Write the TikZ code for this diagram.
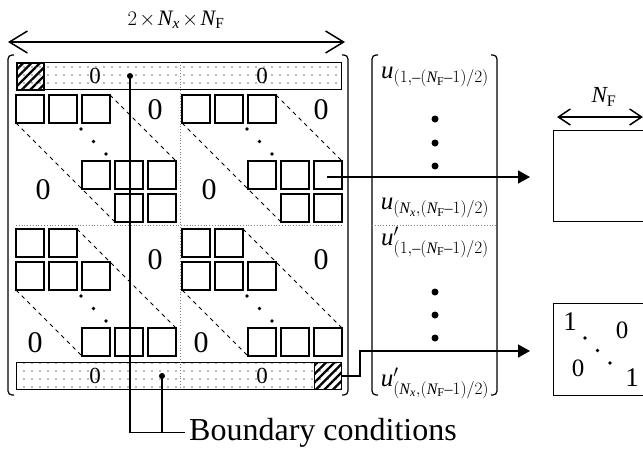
\documentclass[tikz,border=0pt]{standalone}
\usepackage{amsmath}
\usepackage{fontspec}
\setmainfont{Liberation Serif}
\usetikzlibrary{arrows.meta,patterns.meta}
\DeclareMathSizes{25}{25}{16}{12}

\newcommand{\vu}{\textit{u}}
\newcommand{\vN}{\textit{N}}
\newcommand{\mi}{\text{–}}
\newcommand{\tms}{\mkern-2mu\times\mkern-2mu}

\tikzset{
  cell/.style={line width=1.4pt},
  diag/.style={dash pattern=on 4pt off 4pt, line width=0.9pt},
  sep/.style={gray, dotted, line width=0.8pt},
  brak/.style={line width=1.2pt, rounded corners=4pt},
  strip/.style={draw, line width=1.4pt, pattern={Dots[distance=8pt, radius=0.8pt]}, pattern color=black!55,
    minimum width=325pt, minimum height=27pt, inner sep=0pt, anchor=north west},
  hatch/.style={draw, line width=1.4pt, pattern={Lines[angle=45, distance=6pt, line width=2.3pt]},
    minimum size=27pt, inner sep=0pt, anchor=north west},
  box/.style={draw, line width=1.3pt, minimum width=110pt, inner sep=0pt, anchor=north west},
  zero/.style={font=\fontsize{23}{24}\selectfont},
  bigzero/.style={font=\fontsize{30}{32}\selectfont},
  entry/.style={font=\fontsize{25}{28}\selectfont},
  wire/.style={line width=1.5pt},
}

\begin{document}
\begin{tikzpicture}[x=1pt, y=-1pt]
\useasboundingbox (0,0) rectangle (643,451);
\clip (0,0) rectangle (643,451);

% width of the matrix
\draw[wire, {Straight Barb[length=18pt,width=22pt]}-{Straight Barb[length=18pt,width=22pt]}] (8,42) -- (345,42);
\node[font=\fontsize{22}{24}\selectfont] (width) at (176,20) {$2\tms\vN_{\textit{x}}\tms\vN_{\mathrm{F}}$};

% brackets
\draw[brak] (14,55) -- (8,55) -- (8,395) -- (14,395);
\draw[brak] (342,55) -- (348,55) -- (348,395) -- (342,395);
\draw[brak] (378,55) -- (372,55) -- (372,395) -- (378,395);
\draw[brak] (491,55) -- (497,55) -- (497,395) -- (491,395);

% boundary strips
\node[strip] (stripA) at (16,62) {};
\node[strip] (stripB) at (16,362) {};
\node[hatch] (hatchA) at (16,62) {};
\node[hatch] (hatchB) at (314,362) {};
\foreach \zx in {95,262} {
  \node[zero] at (\zx,76) {0};
  \node[zero] at (\zx,376) {0};
}

\draw[sep] (180,62) -- (180,389);
\draw[sep] (16,225) -- (341,225);

% upper blocks
\foreach \bx in {16,182} {
  \begin{scope}[shift={(\bx,95)}]
    \foreach \cx/\cy in {0/0,33/0,66/0,66/66,99/66,132/66,99/99,132/99}
      \draw[cell] (\cx,\cy) rectangle ++(28,28);
    \draw[diag] (0,28) -- (99,127);
    \draw[diag] (94,0) -- (160,66);
    \foreach \d in {0,1,2}
      \fill (65+12.5*\d,34+12.5*\d) circle (1.8pt);
    \node[bigzero] at (139,15) {0};
    \node[bigzero] at (27,95) {0};
  \end{scope}
}

% lower blocks
\foreach \bx in {16,182} {
  \begin{scope}[shift={(\bx,229)}]
    \foreach \cx/\cy in {0/0,33/0,0/33,33/33,66/33,66/99,99/99,132/99}
      \draw[cell] (\cx,\cy) rectangle ++(28,28);
    \draw[diag] (0,61) -- (66,127);
    \draw[diag] (61,0) -- (160,99);
    \foreach \d in {0,1,2}
      \fill (65+12.5*\d,67+12.5*\d) circle (1.8pt);
    \node[bigzero] at (139,31) {0};
    \node[bigzero] at (19,114) {0};
  \end{scope}
}

% unknown vector
\node[entry] (u1) at (435,77) {$\vu_{(1,\mi(\vN_{\mathrm{F}}\mi1)/2)}$};
\node[entry] (u2) at (435,208) {$\vu_{(\vN_{\textit{x}},(\vN_{\mathrm{F}}\mi1)/2)}$};
\node[entry] (u3) at (435,242) {$\vu'_{(1,\mi(\vN_{\mathrm{F}}\mi1)/2)}$};
\node[entry] (u4) at (435,383) {$\vu'_{(\vN_{\textit{x}},(\vN_{\mathrm{F}}\mi1)/2)}$};
\foreach \dy in {119,143,166,292,315,338}
  \fill (435,\dy) circle (3.5pt);
\draw[sep] (372,225) -- (497,225);

% blocks on the right
\node[box, minimum height=91pt] (boxA) at (553,130) {};
\node[box, minimum height=92pt] (boxB) at (553,303) {};
\draw[wire, {Straight Barb[length=12pt,width=16pt]}-{Straight Barb[length=12pt,width=16pt]}] (557,117) -- (643,117);
\node[font=\fontsize{23}{26}\selectfont] (nf) at (604,97) {$\vN_{\mathrm{F}}$};
\node[font=\fontsize{27}{28}\selectfont] at (570,322) {1};
\node[font=\fontsize{25}{28}\selectfont] at (622,330) {0};
\node[font=\fontsize{25}{28}\selectfont] at (578,368) {0};
\node[font=\fontsize{27}{28}\selectfont] at (632,378) {1};
\foreach \d in {0,1,2}
  \fill (585+12.5*\d,338+12.5*\d) circle (1.8pt);

% arrows
\coordinate (srcA) at (327,177);
\coordinate (bendB) at (360,351);
\draw[wire, -{Triangle[length=12pt,width=13pt]}, shorten >=23pt] (srcA) -- (srcA -| boxA.west);
\draw[wire, -{Triangle[length=12pt,width=13pt]}, shorten >=23pt] (hatchB.east) -| (bendB) -- (bendB -| boxB.west);

% boundary conditions
\coordinate (bcA) at (130,76);
\coordinate (bcB) at (162,376);
\node[font=\fontsize{32}{36}\selectfont, anchor=base west, inner sep=4pt] (bc) at (185,440) {Boundary conditions};
\fill (bcA) circle (3pt);
\fill (bcB) circle (3pt);
\draw[wire] (bcA) |- (bc.west);
\draw[wire] (bcB) -- (bcB |- bc.west);
\end{tikzpicture}
\end{document}
